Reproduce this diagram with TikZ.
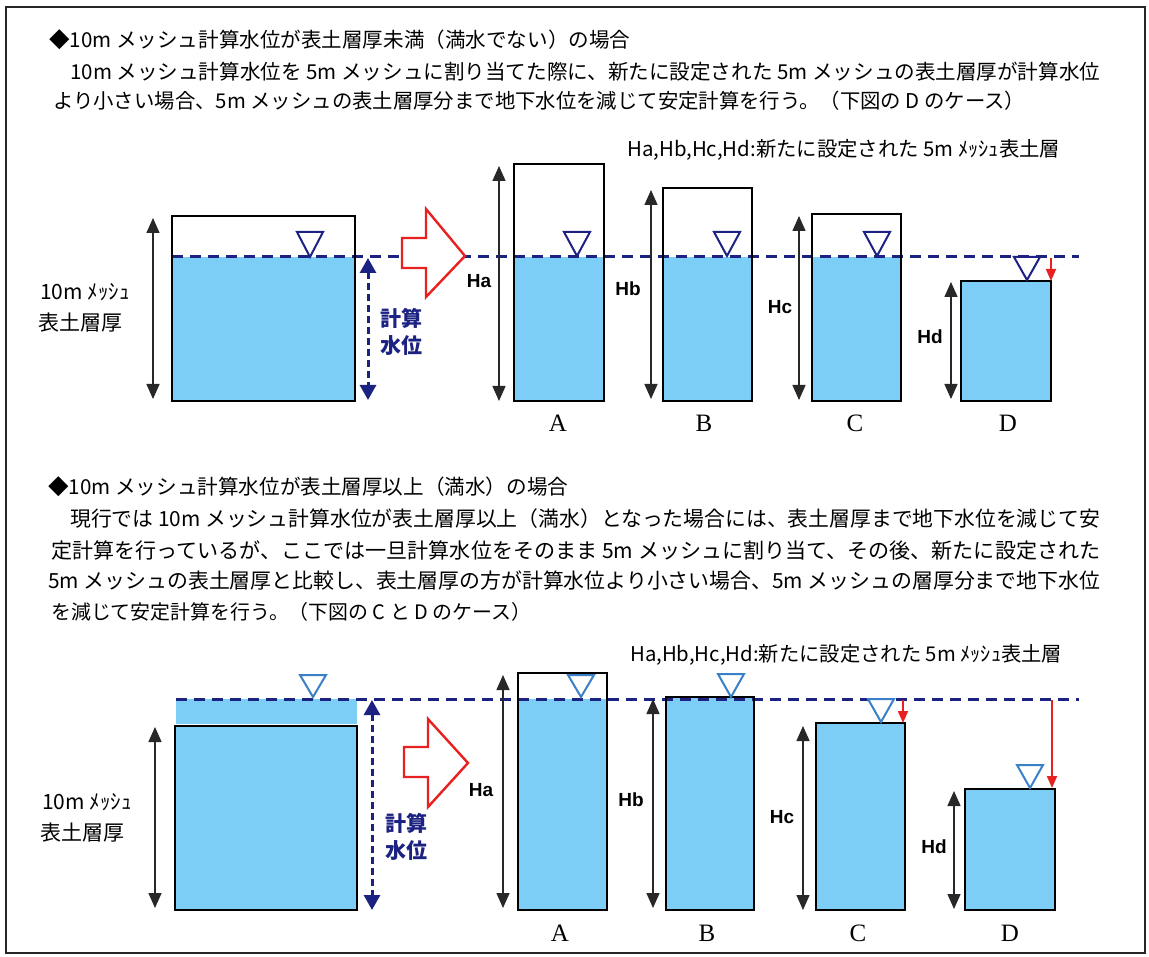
\documentclass[tikz,border=0pt]{standalone}
\usepackage{fontspec}
\usetikzlibrary{arrows.meta}
\newfontfamily\jp{Noto Sans CJK JP}
\newfontfamily\lsans{Liberation Sans}
\newfontfamily\lserif{Liberation Serif}
\definecolor{water}{RGB}{125,206,246}
\definecolor{navy}{RGB}{28,34,130}
\definecolor{triblue}{RGB}{58,128,200}
\definecolor{redar}{RGB}{232,32,32}
\definecolor{dimgrey}{RGB}{40,40,40}
\newcommand\wtri[4]{\draw[#4] (#1-13,#2) -- (#1+13,#2) -- (#1,#3) -- cycle;}
\begin{document}
\begin{tikzpicture}[x=1pt,y=-1pt,
  boxline/.style={draw=black, line width=1.8pt},
  wlevel/.style={draw=navy, line width=3pt, dash pattern=on 11pt off 7pt},
  dimarrow/.style={draw=dimgrey, line width=1.5pt, {Triangle[length=15pt,width=13pt]}-{Triangle[length=15pt,width=13pt]}},
  calcarrow/.style={draw=navy, line width=3pt, dash pattern=on 7pt off 4pt, {Triangle[length=15pt,width=16pt]}-{Triangle[length=15pt,width=16pt]}},
  droparrow/.style={draw=redar, line width=1.8pt, -{Triangle[length=12pt,width=10pt]}},
  bigarrow/.style={draw=redar, line width=2.4pt, line join=miter, fill=white},
  tritop/.style={draw=navy, line width=2pt, fill=white, line join=miter},
  tribot/.style={draw=triblue, line width=2pt, fill=white, line join=miter},
  txt/.style={inner sep=0pt, anchor=west},
  hlabel/.style={inner sep=0pt, font=\lsans\bfseries\fontsize{19}{19}\selectfont},
  jlabel/.style={inner sep=0pt, anchor=west, font=\jp\fontsize{21}{21}\selectfont},
  clabel/.style={inner sep=0pt, anchor=west, text=navy, font=\jp\bfseries\fontsize{21}{21}\selectfont},
  caselabel/.style={inner sep=0pt, font=\lserif\fontsize{25}{25}\selectfont}
]
\useasboundingbox (0,0) rectangle (1149,957);
\fill[white] (0,0) rectangle (1149,957);
\draw[line width=1.8pt, draw=black!85] (6,7) rectangle (1145,953);

% ---------------- texts top ----------------
\node[txt] (t1) at (49,40) {\resizebox{581pt}{!}{\jp ◆10m メッシュ計算水位が表土層厚未満（満水でない）の場合}};
\node[txt] (t1a) at (70,72) {\resizebox{1030pt}{!}{\jp 10m メッシュ計算水位を 5m メッシュに割り当てた際に、新たに設定された 5m メッシュの表土層厚が計算水位}};
\node[txt] (t1b) at (53,101) {\resizebox{972pt}{!}{\jp より小さい場合、5m メッシュの表土層厚分まで地下水位を減じて安定計算を行う。（下図の D のケース）}};

% ---------------- top diagram ----------------
\fill[water] (172,257) rectangle (355,401);
\fill[water] (514,257) rectangle (604,401);
\fill[water] (663,257) rectangle (752,401);
\fill[water] (812,257) rectangle (901,401);
\fill[water] (961,281) rectangle (1051,401);
\coordinate (wl1s) at (172,257);
\coordinate (wl1e) at (1079,257);
\draw[wlevel] (wl1s) -- (wl1e);
\draw[boxline] (172,216) rectangle (355,401);
\draw[boxline] (514,164) rectangle (604,401);
\draw[boxline] (663,188) rectangle (752,401);
\draw[boxline] (812,214) rectangle (901,401);
\draw[boxline] (961,281) rectangle (1051,401);
\wtri{310}{232}{257}{tritop}
\wtri{577}{232}{256}{tritop}
\wtri{727}{232}{256}{tritop}
\wtri{877}{232}{256}{tritop}
\wtri{1027}{257}{280}{tritop}

\coordinate (m1t) at (153,218); \coordinate (m1b) at (153,399);
\draw[dimarrow] (m1t) -- (m1b);
\coordinate (c1t) at (368,258); \coordinate (c1b) at (368,400);
\draw[calcarrow] (c1t) -- (c1b);
\node[jlabel] (l1a) at (40,292) {10m ﾒｯｼｭ};
\node[jlabel] (l1b) at (38,323) {表土層厚};
\node[clabel] (k1a) at (380,318) {計算};
\node[clabel] (k1b) at (380,346) {水位};
\draw[bigarrow] (402,238) -- (426,238) -- (426,209) -- (465,256) -- (426,297) -- (426,268) -- (402,268) -- cycle;

\coordinate (a1t) at (499,166); \coordinate (a1b) at (499,401);
\draw[dimarrow] (a1t) -- (a1b);
\coordinate (b1t) at (651,190); \coordinate (b1b) at (651,399);
\draw[dimarrow] (b1t) -- (b1b);
\coordinate (cc1t) at (799,216); \coordinate (cc1b) at (799,400);
\draw[dimarrow] (cc1t) -- (cc1b);
\coordinate (d1t) at (951,282); \coordinate (d1b) at (951,399);
\draw[dimarrow] (d1t) -- (d1b);
\node[hlabel] (ha1) at (479,281) {Ha};
\node[hlabel] (hb1) at (628,289) {Hb};
\node[hlabel] (hc1) at (780,307) {Hc};
\node[hlabel] (hd1) at (930,337) {Hd};
\coordinate (r1s) at (1051,258); \coordinate (r1e) at (1051,281);
\draw[droparrow] (r1s) -- (r1e);
\node[txt] (n1) at (627,150) {\resizebox{433pt}{!}{\jp Ha,Hb,Hc,Hd:新たに設定された 5m ﾒｯｼｭ表土層}};
\node[caselabel] (A1) at (558,423) {A};
\node[caselabel] (B1) at (704,423) {B};
\node[caselabel] (C1) at (855,423) {C};
\node[caselabel] (D1) at (1008,423) {D};

% ---------------- texts bottom ----------------
\node[txt] (t2) at (48,487) {\resizebox{520pt}{!}{\jp ◆10m メッシュ計算水位が表土層厚以上（満水）の場合}};
\node[txt] (t2a) at (70,519) {\resizebox{1030pt}{!}{\jp 現行では 10m メッシュ計算水位が表土層厚以上（満水）となった場合には、表土層厚まで地下水位を減じて安}};
\node[txt] (t2b) at (51,550) {\resizebox{1049pt}{!}{\jp 定計算を行っているが、ここでは一旦計算水位をそのまま 5m メッシュに割り当て、その後、新たに設定された}};
\node[txt] (t2c) at (48,581) {\resizebox{1052pt}{!}{\jp 5m メッシュの表土層厚と比較し、表土層厚の方が計算水位より小さい場合、5m メッシュの層厚分まで地下水位}};
\node[txt] (t2d) at (51,612) {\resizebox{480pt}{!}{\jp を減じて安定計算を行う。（下図の C と D のケース）}};

% ---------------- bottom diagram ----------------
\fill[water] (176,699) rectangle (357,724);
\fill[water] (175,726) rectangle (357,910);
\fill[water] (518,699) rectangle (607,910);
\fill[water] (666,697) rectangle (754,910);
\fill[water] (816,723) rectangle (905,910);
\fill[water] (965,789) rectangle (1055,910);
\coordinate (wl2s) at (176,699);
\coordinate (wl2e) at (1079,699);
\draw[wlevel] (wl2s) -- (wl2e);
\draw[boxline] (175,726) rectangle (357,910);
\draw[boxline] (518,673) rectangle (607,910);
\draw[boxline] (666,697) rectangle (754,910);
\draw[boxline] (816,723) rectangle (905,910);
\draw[boxline] (965,789) rectangle (1055,910);
\wtri{313}{675}{697}{tribot}
\wtri{581}{675}{697}{tribot}
\wtri{731}{674}{697}{tribot}
\wtri{881}{699}{722}{tribot}
\wtri{1030}{765}{788}{tribot}

\coordinate (m2t) at (155,727); \coordinate (m2b) at (155,908);
\draw[dimarrow] (m2t) -- (m2b);
\coordinate (c2t) at (372,700); \coordinate (c2b) at (372,910);
\draw[calcarrow] (c2t) -- (c2b);
\node[jlabel] (l2a) at (42,802) {10m ﾒｯｼｭ};
\node[jlabel] (l2b) at (40,833) {表土層厚};
\node[clabel] (k2a) at (385,823) {計算};
\node[clabel] (k2b) at (385,851) {水位};
\draw[bigarrow] (404,747) -- (428,747) -- (428,719) -- (468,763) -- (428,807) -- (428,777) -- (404,777) -- cycle;

\coordinate (a2t) at (503,675); \coordinate (a2b) at (503,908);
\draw[dimarrow] (a2t) -- (a2b);
\coordinate (b2t) at (653,699); \coordinate (b2b) at (653,908);
\draw[dimarrow] (b2t) -- (b2b);
\coordinate (cc2t) at (803,726); \coordinate (cc2b) at (803,910);
\draw[dimarrow] (cc2t) -- (cc2b);
\coordinate (d2t) at (954,791); \coordinate (d2b) at (954,909);
\draw[dimarrow] (d2t) -- (d2b);
\node[hlabel] (ha2) at (481,790) {Ha};
\node[hlabel] (hb2) at (631,800) {Hb};
\node[hlabel] (hc2) at (782,817) {Hc};
\node[hlabel] (hd2) at (934,847) {Hd};
\coordinate (r2s) at (903,700); \coordinate (r2e) at (903,723);
\draw[droparrow] (r2s) -- (r2e);
\coordinate (r3s) at (1052,700); \coordinate (r3e) at (1052,788);
\draw[droparrow] (r3s) -- (r3e);
\node[txt] (n2) at (630,655) {\resizebox{432pt}{!}{\jp Ha,Hb,Hc,Hd:新たに設定された 5m ﾒｯｼｭ表土層}};
\node[caselabel] (A2) at (560,933) {A};
\node[caselabel] (B2) at (707,933) {B};
\node[caselabel] (C2) at (858,933) {C};
\node[caselabel] (D2) at (1010,933) {D};
\end{tikzpicture}
\end{document}
